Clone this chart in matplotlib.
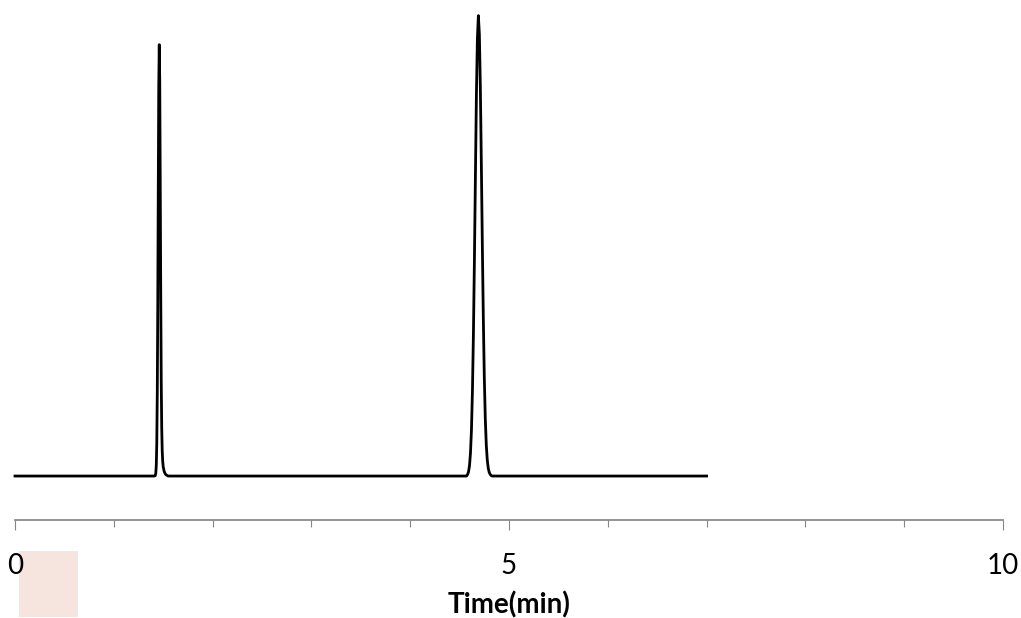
import numpy as np
import matplotlib
matplotlib.use("Agg")
import matplotlib.pyplot as plt
from matplotlib.patches import Rectangle


# chromatogram trace (signal in arbitrary units, baseline = 0)
run_start = 0.0
run_end = 7.0

peak1_time = [1.41, 1.42, 1.425, 1.43, 1.435, 1.44, 1.445, 1.45, 1.455, 1.46,
              1.465, 1.47, 1.475, 1.48, 1.485, 1.49, 1.495, 1.50, 1.51, 1.52,
              1.53, 1.55]
peak1_signal = [0.0, 0.1, 0.6, 2.3, 7.1, 17.9, 37.0, 62.0, 84.5, 93.7,
                86.0, 64.0, 40.0, 21.0, 10.5, 5.5, 3.2, 2.0, 1.0, 0.5,
                0.25, 0.0]

peak2_time = [4.57, 4.58, 4.59, 4.60, 4.61, 4.62, 4.63, 4.64, 4.65, 4.66,
              4.67, 4.68, 4.69, 4.70, 4.71, 4.72, 4.73, 4.74, 4.75, 4.76,
              4.77, 4.78, 4.79, 4.80, 4.81, 4.82, 4.83]
peak2_signal = [0.0, 0.3, 0.9, 2.2, 5.0, 10.0, 18.5, 31.0, 47.0, 65.0,
                82.5, 95.0, 100.0, 96.0, 84.5, 68.0, 50.5, 34.5, 21.5, 12.5,
                6.8, 3.5, 1.7, 0.8, 0.35, 0.1, 0.0]

x_major = [0, 5, 10]
x_minor = [1, 2, 3, 4, 6, 7, 8, 9]
x_label = "Time(min)"

time = np.concatenate([[run_start], peak1_time, peak2_time, [run_end]])
signal = np.concatenate([[0.0], peak1_signal, peak2_signal, [0.0]])

plt.rcParams['font.family'] = ['Lato', 'DejaVu Sans']

fig = plt.figure(figsize=(10.21, 6.18), dpi=100)
ax = fig.add_axes([15 / 1021, 98 / 618, 988 / 1021, 520 / 618])
ax.patch.set_visible(False)

ax.plot(time, signal, color='black', lw=2.0, solid_joinstyle='round', clip_on=False)

ax.set_xlim(0, 10)
ax.set_ylim(-9.55, 103.4)

for s in ['left', 'right', 'top']:
	ax.spines[s].set_visible(False)
ax.spines['bottom'].set_color('#868686')
ax.spines['bottom'].set_linewidth(1.25)

ax.set_yticks([])
ax.set_xticks(x_major)
ax.set_xticks(x_minor, minor=True)
ax.tick_params(axis='x', which='major', length=7.5, width=0.8, color='#868686',
               labelsize=20, pad=16)
ax.tick_params(axis='x', which='minor', length=5, width=0.8, color='#868686')

ax.set_xlabel(x_label, fontsize=20, fontweight='bold')
ax.xaxis.set_label_coords(0.5, -0.138)

# faint leftover legend swatch below the axis
fig.patches.append(Rectangle((19 / 1021, 1 / 618), 59 / 1021, 66 / 618,
                             transform=fig.transFigure, facecolor='#F6E5DF',
                             edgecolor='none', zorder=-1))

plt.savefig("out.png", dpi=100)
